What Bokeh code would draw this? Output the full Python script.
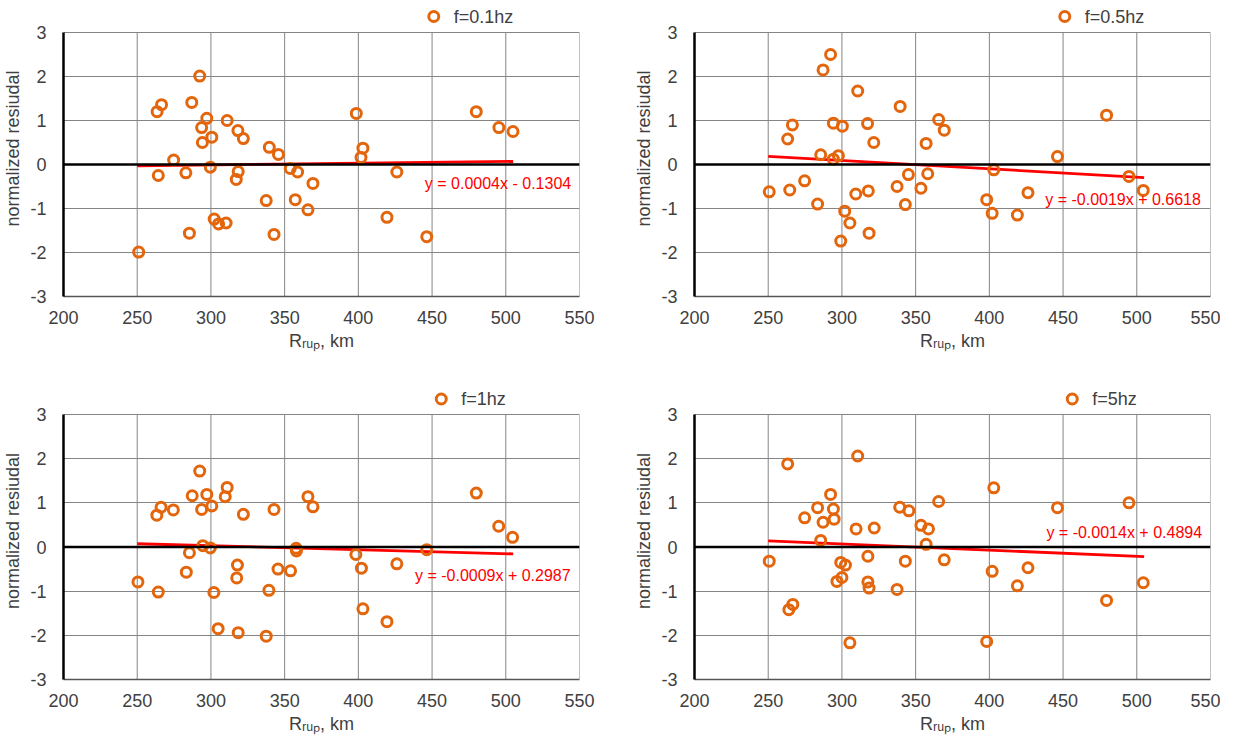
from bokeh.plotting import figure
from bokeh.layouts import column, row
from bokeh.models import Range1d, FixedTicker, Span, Label
from bokeh.core.properties import value
from bokeh.embed import file_html
from bokeh.resources import INLINE

# ---------------- data ----------------
x_ticks = [200, 250, 300, 350, 400, 450, 500, 550]
y_ticks = [-3, -2, -1, 0, 1, 2, 3]

names = ["f=0.1hz", "f=0.5hz", "f=1hz", "f=5hz"]

r1 = [251, 263.5, 266.5, 264.3, 274.7, 283, 285.4, 287, 292.4, 293.7, 294.2, 297.2, 300.6, 299.6,
      302.2, 305.2, 310.3, 311, 318.3, 322, 318.5, 317.2, 339.6, 345.8, 337.5, 342.8, 353.8, 358.8,
      357.2, 365.8, 369.2, 398.6, 403.1, 401.8, 419.4, 426.1, 446.4, 480, 495.3, 504.9]
res1 = [-1.99, 1.2, 1.36, -0.25, 0.1, -0.19, -1.56, 1.41, 2.01, 0.84, 0.5, 1.05, 0.62, -0.06,
        -1.24, -1.35, -1.33, 1.0, 0.77, 0.59, -0.16, -0.34, 0.39, 0.23, -0.82, -1.59, -0.09, -0.17,
        -0.8, -1.03, -0.43, 1.16, 0.37, 0.16, -1.2, -0.17, -1.64, 1.2, 0.84, 0.75]

r2 = [250.7, 263.2, 266.4, 264.6, 274.7, 283.5, 285.6, 287.2, 292.3, 294.2, 294.2, 297.6, 300.3, 299.2,
      301.9, 305.4, 309.4, 310.7, 317.4, 321.6, 317.9, 318.4, 339.5, 337.4, 345.1, 343, 353.6, 358.2,
      357.1, 365.6, 369.4, 398.2, 401.9, 403, 419, 426.2, 446.2, 479.5, 494.7, 504.4]
res2 = [-0.62, 0.58, 0.9, -0.58, -0.37, -0.9, 0.22, 2.15, 2.5, 0.94, 0.12, 0.2, 0.87, -1.74,
        -1.06, -1.33, -0.67, 1.67, 0.93, 0.5, -0.6, -1.56, 1.32, -0.5, -0.23, -0.91, -0.54, -0.21,
        0.48, 1.02, 0.78, -0.8, -1.11, -0.12, -1.15, -0.64, 0.18, 1.12, -0.27, -0.59]

r3 = [250.5, 263.3, 266.2, 264.3, 274.5, 283.3, 285.4, 287.3, 292.4, 293.7, 294.5, 297.2, 300.6, 299.6,
      302, 304.9, 309.7, 311, 318, 322, 317.5, 318.5, 342.8, 339.3, 337.5, 345.5, 354, 357.8,
      358, 365.8, 369.2, 398.3, 402.1, 403.1, 419.4, 426.1, 446.4, 480, 495.2, 504.6]
res3 = [-0.79, 0.72, 0.9, -1.02, 0.84, -0.57, -0.13, 1.16, 1.72, 0.85, 0.03, 1.19, 0.93, -0.02,
        -1.03, -1.85, 1.14, 1.35, -0.41, 0.74, -0.7, -1.94, 0.85, -0.98, -2.02, -0.5, -0.54, -0.03,
        -0.09, 1.14, 0.91, -0.17, -0.48, -1.4, -1.69, -0.38, -0.06, 1.22, 0.47, 0.22]

r4 = [250.7, 263.2, 266.7, 264, 274.7, 283.5, 285.6, 287.2, 292.3, 294.2, 294.7, 299.2, 296.6, 300,
      302.4, 305.4, 309.6, 310.7, 317.6, 321.9, 317.6, 318.4, 339.2, 337.4, 345.4, 343, 353.6, 358.7,
      357.1, 365.6, 369.4, 398.2, 401.9, 403, 419, 426.2, 446.2, 479.5, 494.7, 504.4]
res4 = [-0.32, 1.88, -1.3, -1.42, 0.66, 0.89, 0.15, 0.56, 1.19, 0.86, 0.63, -0.35, -0.78, -0.69,
        -0.41, -2.17, 0.41, 2.06, -0.21, 0.43, -0.79, -0.93, 0.9, -0.96, 0.82, -0.32, 0.49, 0.41,
        0.06, 1.03, -0.29, -2.14, -0.55, 1.34, -0.88, -0.47, 0.89, -1.21, 1.0, -0.81]

slopes = [0.0004, -0.0019, -0.0009, -0.0014]
intercepts = [-0.1304, 0.6618, 0.2987, 0.4894]
eq_texts = ["y = 0.0004x - 0.1304", "y = -0.0019x + 0.6618",
            "y = -0.0009x + 0.2987", "y = -0.0014x + 0.4894"]
trend_x = [250, 505]

x_title = "R\u1d63\u1d64\u209a, km"
y_title = "normalized resiudal"

# ---------------- styling ----------------
FONT = "Liberation Sans"
ORANGE = "#E3650C"
GRID = "#858585"
TXT = "#404040"
FW = 517
TOP_PAD = 32          # px of legend strip above y = 3 (inside the frame)
PXU = FW / 350.0

eq_pos = [(445.1, -0.44), (437.9, -0.80), (438.4, -0.64), (438.7, 0.33)]
legend_dx = [371, 371, 378.5, 378.5]    # legend marker offset from frame left, px
legend_dy = [16, 16, 15.5, 15.5]        # legend marker height above y = 3, px

MARKER = dict(marker="circle", size=10, line_color=ORANGE, line_width=3, fill_alpha=0)


def make_panel(i, xs, ys, w, h, fh, bottom, right):
    pyu = fh / 6.0
    p = figure(width=w, height=h, output_backend="svg", toolbar_location=None,
               x_range=Range1d(200, 550), y_range=Range1d(-3, 3 + TOP_PAD / pyu),
               min_border_left=62, min_border_right=right, min_border_top=0,
               min_border_bottom=bottom, background_fill_color="white",
               border_fill_color="white")
    p.outline_line_color = None
    p.xaxis.ticker = FixedTicker(ticks=x_ticks)
    p.yaxis.ticker = FixedTicker(ticks=y_ticks)
    p.xgrid.visible = False
    p.ygrid.ticker = FixedTicker(ticks=y_ticks)
    p.ygrid.grid_line_color = GRID
    p.ygrid.grid_line_width = 1
    p.yaxis.bounds = (-3, 3)
    p.yaxis.major_label_overrides = {t: str(t) for t in y_ticks}
    for ax in (p.xaxis, p.yaxis):
        ax.major_tick_out = 0
        ax.major_tick_in = 0
        ax.minor_tick_out = 0
        ax.minor_tick_in = 0
        ax.major_label_text_font = FONT
        ax.major_label_text_font_size = "18px"
        ax.major_label_text_color = TXT
        ax.axis_label_text_font = FONT
        ax.axis_label_text_font_size = "18px"
        ax.axis_label_text_font_style = "normal"
        ax.axis_label_text_color = TXT
    p.xaxis.axis_label = x_title
    p.yaxis.axis_label = y_title
    p.xaxis.major_label_standoff = 14
    p.yaxis.major_label_standoff = 17
    p.xaxis.axis_label_standoff = 4
    p.yaxis.axis_label_standoff = 4
    p.xaxis.axis_line_color = "#555555"
    p.xaxis.axis_line_width = 1.5
    p.yaxis.axis_line_color = "black"
    p.yaxis.axis_line_width = 2.5

    # vertical grid lines (bounded to the -3..3 plotting area)
    p.segment(x0=x_ticks, y0=[y_ticks[0]] * len(x_ticks), x1=x_ticks,
              y1=[y_ticks[-1]] * len(x_ticks), line_color=GRID, line_width=1)

    p.add_layout(Span(location=0, dimension="width", line_color="black", line_width=2.5,
                      level="glyph"))

    ty = [slopes[i] * t + intercepts[i] for t in trend_x]
    p.line(trend_x, ty, line_color="#FF0000", line_width=2.8)
    p.scatter(xs, ys, **MARKER)

    ex, ey = eq_pos[i]
    p.add_layout(Label(x=ex, y=ey, text=eq_texts[i], text_color="#FF0000",
                       text_font=FONT, text_font_size="16px", text_baseline="middle",
                       text_align="left"))

    # legend (marker + label) in the strip above the plotting area
    lx = 200 + legend_dx[i] / PXU
    ly = 3 + legend_dy[i] / pyu
    p.scatter([lx], [ly], **MARKER)
    p.text(x=[lx + 20 / PXU], y=[ly], text=[names[i]], text_font=value(FONT),
           text_font_size=value("18px"), text_color=TXT, text_baseline="middle",
           text_align="left")
    return p


p1 = make_panel(0, r1, res1, 631, 382, 264, 86, 52)
p2 = make_panel(1, r2, res2, 589, 382, 264, 86, 10)
p3 = make_panel(2, r3, res3, 631, 356, 265, 59, 52)
p4 = make_panel(3, r4, res4, 589, 356, 265, 59, 10)

layout = column(row(p1, p2), row(p3, p4))
open("out.html", "w").write(file_html(layout, INLINE))
